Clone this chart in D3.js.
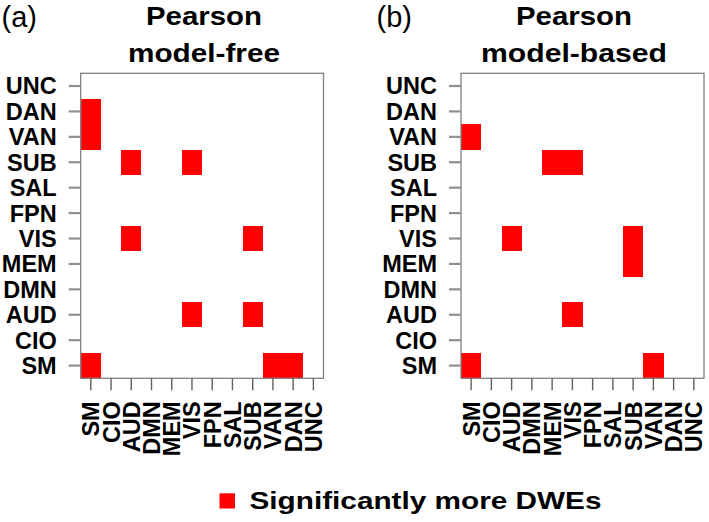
<!DOCTYPE html>
<html>
<head>
<meta charset="utf-8">
<script src="https://cdn.jsdelivr.net/npm/d3@7"></script>
<style>
  html, body { margin: 0; padding: 0; background: #fff; }
  svg { display: block; font-family: "Liberation Sans", Arial, sans-serif; }
</style>
</head>
<body>
<svg id="chart" width="709" height="522"></svg>
<script>
// ---- data ----
const categories = ["SM","CIO","AUD","DMN","MEM","VIS","FPN","SAL","SUB","VAN","DAN","UNC"];
const panelLabels = ["(a)", "(b)"];
const titleLine1 = ["Pearson", "Pearson"];
const titleLine2 = ["model-free", "model-based"];
// significant cells as [column (x), row (y)]
const modelFreeCells = [
  ["SM","DAN"],["SM","VAN"],
  ["AUD","SUB"],["VIS","SUB"],
  ["AUD","VIS"],["SUB","VIS"],
  ["VIS","AUD"],["SUB","AUD"],
  ["SM","SM"],["VAN","SM"],["DAN","SM"]
];
const modelBasedCells = [
  ["SM","VAN"],
  ["MEM","SUB"],["VIS","SUB"],
  ["AUD","VIS"],["SUB","VIS"],
  ["SUB","MEM"],
  ["VIS","AUD"],
  ["SM","SM"],["VAN","SM"]
];
const legendLabel = "Significantly more DWEs";

// ---- layout ----
const svg = d3.select("#chart");
const panels = [
  { cells: modelFreeCells, left: 80.7, right: 323.5, titleX: 204, labelX: 1.5 },
  { cells: modelBasedCells, left: 461, right: 704, titleX: 574, labelX: 376.5 }
];
const plotTop = 73.3, plotBottom = 378.3;
const red = "#ff0000";
const titleLens = [[116, 152], [116, 186]];

panels.forEach((p, i) => {
  const g = svg.append("g");
  const x = d3.scaleBand().domain(categories).range([p.left, p.right]).padding(0);
  const y = d3.scaleBand().domain(categories.slice().reverse()).range([plotTop, plotBottom]).padding(0);

  // cells
  g.selectAll("rect.cell").data(p.cells).enter().append("rect")
    .attr("class", "cell")
    .attr("x", d => x(d[0]))
    .attr("y", d => y(d[1]))
    .attr("width", x.bandwidth())
    .attr("height", y.bandwidth())
    .attr("fill", red)
    .attr("shape-rendering", "crispEdges");

  // box
  g.append("rect")
    .attr("x", p.left).attr("y", plotTop)
    .attr("width", p.right - p.left).attr("height", plotBottom - plotTop)
    .attr("fill", "none").attr("stroke", "#808080").attr("stroke-width", 1.3);

  // x axis
  const xa = g.append("g").attr("transform", `translate(0,${plotBottom})`)
    .call(d3.axisBottom(x).tickSize(12).tickSizeOuter(0));
  xa.select(".domain").remove();
  xa.selectAll(".tick line").attr("stroke", "#606060").attr("stroke-width", 1.4);
  xa.selectAll(".tick text")
    .attr("transform", "rotate(-90)")
    .attr("x", -23).attr("y", 0).attr("dy", "0.36em")
    .attr("text-anchor", "end")
    .attr("font-size", 23.5).attr("font-weight", "bold")
    .attr("font-family", "'Liberation Sans', Arial, sans-serif")
    .attr("fill", "#000");

  // y axis
  const ya = g.append("g").attr("transform", `translate(${p.left},0)`)
    .call(d3.axisLeft(y).tickSize(12).tickSizeOuter(0));
  ya.select(".domain").remove();
  ya.selectAll(".tick line").attr("stroke", "#909090").attr("stroke-width", 2.2);
  ya.selectAll(".tick text")
    .attr("x", -24).attr("dy", "0.36em")
    .attr("font-size", 23.5).attr("font-weight", "bold")
    .attr("font-family", "'Liberation Sans', Arial, sans-serif")
    .attr("fill", "#000");

  // titles
  g.append("text").attr("x", p.titleX).attr("y", 24.5)
    .attr("text-anchor", "middle").attr("font-size", 26.5).attr("font-weight", "bold")
    .attr("textLength", titleLens[i][0]).attr("lengthAdjust", "spacingAndGlyphs")
    .text(titleLine1[i]);
  g.append("text").attr("x", p.titleX).attr("y", 61.7)
    .attr("text-anchor", "middle").attr("font-size", 26.5).attr("font-weight", "bold")
    .attr("textLength", titleLens[i][1]).attr("lengthAdjust", "spacingAndGlyphs")
    .text(titleLine2[i]);

  // panel label
  g.append("text").attr("x", p.labelX).attr("y", 26.5)
    .attr("font-size", 29).attr("font-weight", "normal")
    .text(panelLabels[i]);
});

// legend
const lg = svg.append("g");
lg.append("rect").attr("x", 219.5).attr("y", 493.3).attr("width", 15.5).attr("height", 15.2).attr("fill", red);
lg.append("text").attr("x", 249.5).attr("y", 509.3)
  .attr("font-size", 24.5).attr("font-weight", "bold")
  .attr("textLength", 352).attr("lengthAdjust", "spacingAndGlyphs")
  .text(legendLabel);
</script>
</body>
</html>
